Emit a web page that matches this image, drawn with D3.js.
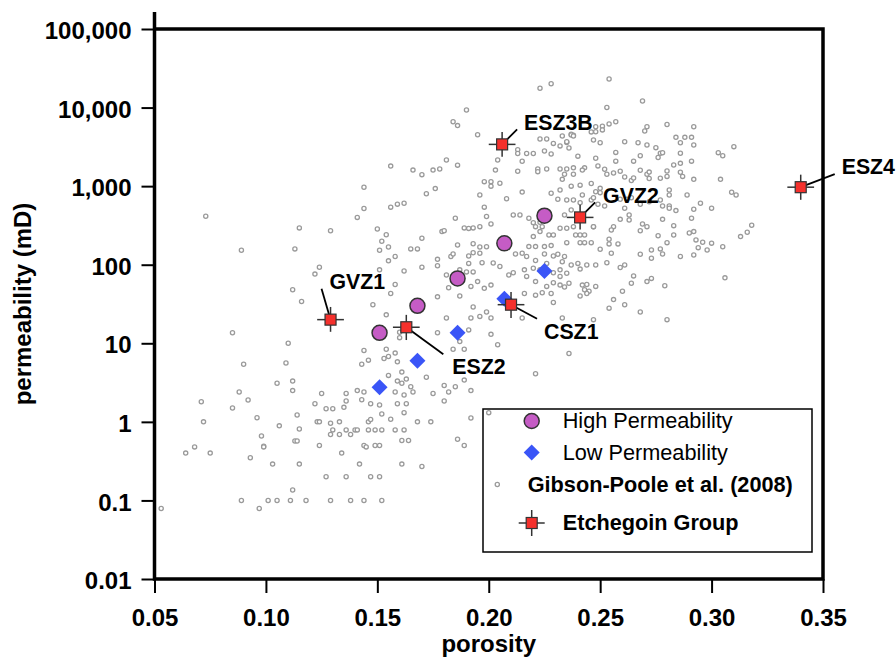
<!DOCTYPE html>
<html>
<head>
<meta charset="utf-8">
<script src="https://cdn.jsdelivr.net/npm/d3@7"></script>
<style>
  html, body { margin: 0; padding: 0; background: #fff; }
  svg { display: block; }
</style>
</head>
<body>
<div id="chart"></div>
<script>
// Tick values
const porosityTicks = [0.05, 0.10, 0.15, 0.20, 0.25, 0.30, 0.35];
const permTicks = [0.01, 0.1, 1, 10, 100, 1000, 10000, 100000];

// High / low permeability samples
const highPorosity = [0.151, 0.168, 0.186, 0.207, 0.225];
const highPerm = [13.6, 30, 67, 187, 421];
const lowPorosity = [0.151, 0.168, 0.186, 0.207, 0.225];
const lowPerm = [2.75, 6.0, 13.6, 37, 83];

// Etchegoin Group samples with error bars
const etchNames = ["GVZ1", "ESZ2", "ESZ3B", "CSZ1", "GVZ2", "ESZ4"];
const etchPorosity = [0.129, 0.163, 0.206, 0.210, 0.241, 0.340];
const etchPerm = [20, 16, 3400, 31, 400, 970];
const etchPorosityErr = [0.006, 0.006, 0.006, 0.006, 0.006, 0.006];
const etchPermLow = [14, 11, 2360, 21, 280, 670];
const etchPermHigh = [29, 23, 4900, 45, 580, 1400];

// Gibson-Poole et al. (2008): [porosity, permeability mD]
const gibsonPoole = [
  [0.190, 9300], [0.184, 6600], [0.186, 5900], [0.195, 4500], [0.156, 1800], [0.166, 1600],
  [0.170, 1400], [0.175, 1600], [0.178, 1650], [0.181, 2150], [0.186, 1850], [0.144, 970],
  [0.172, 800], [0.176, 930], [0.198, 1140], [0.201, 1140], [0.201, 1000], [0.205, 1090],
  [0.196, 770], [0.203, 1600], [0.204, 2150], [0.213, 2900], [0.213, 2600], [0.217, 2600],
  [0.220, 2600], [0.215, 2070], [0.213, 1550], [0.222, 1650], [0.226, 1650], [0.222, 1530],
  [0.215, 840], [0.208, 690], [0.198, 540], [0.199, 410], [0.201, 330], [0.144, 520],
  [0.141, 400], [0.156, 540], [0.159, 590], [0.162, 605], [0.185, 390], [0.189, 294],
  [0.191, 290], [0.193, 294], [0.196, 305], [0.179, 264], [0.180, 270], [0.170, 217],
  [0.150, 285], [0.154, 241], [0.152, 199], [0.155, 168], [0.151, 153], [0.158, 127],
  [0.155, 112], [0.165, 159], [0.168, 159], [0.170, 93], [0.162, 83], [0.115, 294],
  [0.129, 271], [0.113, 159], [0.124, 93], [0.122, 76], [0.112, 48], [0.116, 34],
  [0.151, 86], [0.158, 56], [0.156, 43], [0.148, 31], [0.154, 23], [0.151, 12.3],
  [0.160, 13.8], [0.160, 11.8], [0.144, 8.1], [0.146, 6.1], [0.143, 5.4], [0.154, 8.4],
  [0.153, 6.4], [0.155, 6.8], [0.158, 7.5], [0.159, 5.8], [0.155, 3.9], [0.161, 4.3],
  [0.159, 3.3], [0.161, 3.1], [0.165, 2.8], [0.163, 3.5], [0.166, 2.4], [0.110, 10],
  [0.109, 5.6], [0.112, 3.3], [0.112, 2.5], [0.125, 2.3], [0.136, 2.3], [0.141, 2.5],
  [0.144, 2.4], [0.158, 2.4], [0.172, 3.7], [0.175, 2.3], [0.180, 2.9], [0.185, 2.8],
  [0.189, 3.4], [0.177, 117], [0.177, 97], [0.183, 127], [0.184, 137], [0.186, 178],
  [0.191, 129], [0.193, 142], [0.191, 104], [0.196, 140], [0.197, 106], [0.193, 185],
  [0.196, 168], [0.199, 169], [0.187, 86], [0.190, 81], [0.193, 81], [0.181, 74],
  [0.182, 51], [0.186, 59], [0.192, 53], [0.195, 61], [0.198, 50], [0.201, 55],
  [0.202, 105], [0.205, 95], [0.209, 74], [0.211, 79], [0.187, 40], [0.177, 39],
  [0.193, 29], [0.199, 25], [0.201, 21], [0.196, 22], [0.181, 21], [0.184, 8.4],
  [0.177, 13.6], [0.191, 14.8], [0.187, 10.5], [0.189, 8.4], [0.192, 21], [0.201, 13],
  [0.204, 9.6], [0.223, 3980], [0.226, 3980], [0.229, 3500], [0.233, 4350], [0.235, 3600],
  [0.237, 4570], [0.238, 4440], [0.247, 3860], [0.248, 4930], [0.232, 3250], [0.236, 3060],
  [0.240, 2410], [0.243, 1710], [0.248, 2260], [0.225, 2800], [0.228, 2560], [0.232, 1650],
  [0.235, 1650], [0.238, 1710], [0.242, 1600], [0.234, 1420], [0.238, 1420], [0.233, 1220],
  [0.237, 1000], [0.241, 1030], [0.246, 1080], [0.248, 850], [0.232, 895], [0.228, 811],
  [0.231, 681], [0.235, 667], [0.238, 667], [0.242, 773], [0.246, 667], [0.211, 430],
  [0.214, 430], [0.218, 390], [0.220, 343], [0.223, 347], [0.221, 305], [0.224, 305],
  [0.227, 239], [0.229, 239], [0.232, 291], [0.235, 291], [0.238, 305], [0.239, 239],
  [0.241, 239], [0.243, 239], [0.247, 305], [0.246, 191], [0.241, 191], [0.235, 191],
  [0.228, 175], [0.225, 170], [0.221, 170], [0.218, 170], [0.223, 264], [0.220, 228],
  [0.212, 137], [0.215, 140], [0.217, 127], [0.221, 113], [0.225, 137], [0.229, 129],
  [0.231, 136], [0.234, 127], [0.233, 109], [0.237, 99], [0.240, 104], [0.244, 99],
  [0.248, 99], [0.216, 86], [0.220, 90], [0.223, 86], [0.226, 104], [0.229, 79],
  [0.232, 86], [0.235, 78], [0.236, 58], [0.242, 55], [0.245, 46], [0.248, 53],
  [0.217, 71], [0.221, 61], [0.226, 53], [0.229, 59], [0.234, 52], [0.216, 43],
  [0.221, 41], [0.224, 44], [0.229, 33], [0.233, 21], [0.247, 20], [0.236, 7.4],
  [0.221, 4.1], [0.215, 21], [0.228, 43], [0.232, 55], [0.253, 10000], [0.269, 12100],
  [0.248, 5700], [0.251, 5800], [0.254, 6200], [0.257, 6600], [0.251, 5200], [0.246, 4900],
  [0.237, 4480], [0.238, 4350], [0.235, 3680], [0.250, 3570], [0.261, 3680], [0.267, 3570],
  [0.271, 3340], [0.270, 5040], [0.271, 5700], [0.280, 6100], [0.292, 5700], [0.284, 4180],
  [0.286, 3570], [0.288, 4180], [0.291, 4180], [0.292, 3340], [0.275, 3090], [0.277, 2620],
  [0.278, 2660], [0.276, 2310], [0.286, 2620], [0.303, 2670], [0.305, 2440], [0.310, 3180],
  [0.257, 2690], [0.257, 2080], [0.265, 2080], [0.268, 2440], [0.283, 1860], [0.286, 1950],
  [0.291, 2080], [0.249, 1810], [0.252, 1640], [0.253, 1420], [0.256, 1470], [0.259, 1550],
  [0.261, 1310], [0.264, 1180], [0.265, 1270], [0.268, 1590], [0.271, 1420], [0.272, 1510],
  [0.272, 1250], [0.277, 1260], [0.280, 1330], [0.280, 1560], [0.286, 1500], [0.287, 1330],
  [0.292, 1220], [0.304, 1220], [0.250, 826], [0.247, 713], [0.249, 588], [0.252, 560],
  [0.250, 938], [0.241, 615], [0.237, 497], [0.234, 430], [0.259, 681], [0.262, 681],
  [0.264, 713], [0.261, 523], [0.263, 430], [0.263, 371], [0.259, 378], [0.268, 588],
  [0.272, 635], [0.277, 667], [0.281, 893], [0.281, 773], [0.278, 560], [0.281, 560],
  [0.281, 523], [0.284, 488], [0.278, 378], [0.289, 773], [0.292, 508], [0.291, 391],
  [0.295, 605], [0.300, 523], [0.309, 836], [0.311, 773], [0.247, 305], [0.243, 191],
  [0.256, 305], [0.255, 277], [0.254, 211], [0.254, 184], [0.250, 157], [0.258, 184],
  [0.255, 140], [0.253, 106], [0.259, 92], [0.261, 99], [0.265, 72], [0.264, 58],
  [0.268, 136], [0.269, 330], [0.271, 305], [0.268, 271], [0.273, 154], [0.273, 121],
  [0.276, 234], [0.277, 159], [0.278, 137], [0.280, 191], [0.283, 314], [0.283, 239],
  [0.286, 127], [0.290, 253], [0.292, 264], [0.293, 207], [0.294, 165], [0.292, 133],
  [0.296, 193], [0.298, 154], [0.300, 188], [0.305, 169], [0.313, 228], [0.316, 259],
  [0.318, 318], [0.306, 68], [0.279, 54], [0.273, 67], [0.271, 61], [0.260, 46],
  [0.256, 36], [0.261, 31], [0.254, 28], [0.268, 25], [0.280, 20], [0.244, 56],
  [0.244, 43], [0.241, 40], [0.243, 48], [0.241, 88], [0.232, 71], [0.073, 414],
  [0.089, 153], [0.085, 13.6], [0.090, 5.4], [0.105, 3.1], [0.088, 2.4], [0.092, 1.9],
  [0.071, 1.8], [0.085, 1.5], [0.072, 1.0], [0.096, 1.13], [0.106, 0.89], [0.098, 0.66],
  [0.099, 0.49], [0.099, 0.48], [0.068, 0.48], [0.064, 0.4], [0.075, 0.4], [0.093, 0.35],
  [0.103, 0.29], [0.112, 0.136], [0.089, 0.1], [0.097, 0.079], [0.101, 0.1], [0.105, 0.1],
  [0.111, 0.1], [0.053, 0.079], [0.114, 1.22], [0.113, 0.57], [0.114, 0.57], [0.115, 0.81],
  [0.115, 0.29], [0.162, 2.2], [0.182, 2.4], [0.192, 2.5], [0.180, 1.84], [0.122, 1.7],
  [0.127, 1.47], [0.130, 1.47], [0.135, 1.53], [0.136, 1.84], [0.143, 1.91], [0.147, 1.7],
  [0.151, 1.64], [0.159, 1.7], [0.163, 1.7], [0.162, 1.31], [0.152, 1.26], [0.123, 1.0],
  [0.124, 1.0], [0.129, 0.96], [0.133, 1.0], [0.146, 1.0], [0.147, 1.07], [0.156, 1.08],
  [0.168, 1.0], [0.174, 1.0], [0.192, 1.12], [0.130, 0.79], [0.136, 0.79], [0.140, 0.79],
  [0.141, 0.79], [0.146, 0.79], [0.149, 0.79], [0.152, 0.79], [0.158, 0.79], [0.162, 0.79],
  [0.129, 0.69], [0.133, 0.69], [0.138, 0.69], [0.124, 0.5], [0.144, 0.5], [0.145, 0.48],
  [0.149, 0.5], [0.151, 0.5], [0.161, 0.58], [0.164, 0.58], [0.186, 0.6], [0.189, 0.5],
  [0.134, 0.4], [0.142, 0.29], [0.161, 0.29], [0.170, 0.27], [0.127, 0.2], [0.136, 0.2],
  [0.147, 0.2], [0.151, 0.2], [0.118, 0.1], [0.129, 0.1], [0.138, 0.1], [0.144, 0.1],
  [0.152, 0.1], [0.200, 1.31], [0.223, 17600], [0.228, 20100], [0.254, 23100]
];

// Configuration
const config = {
    width: 896,
    height: 664,
    left: 154.5,
    right: 823,
    top: 29,
    bottom: 579,
    font: "'Liberation Sans', Arial, Helvetica, sans-serif",
    highColor: "#c55cc5",
    lowColor: "#3a55f7",
    etchColor: "#f5302c",
    grayColor: "#9a9a9a"
};

// Label layout for the Etchegoin annotations (pixel offsets from the marker)
const etchLabelLayout = [
    { lx: -9, ly: -31, tx: -1, ty: -31 },
    { lx: 37, ly: 27, tx: 46, ty: 47 },
    { lx: 15, ly: -15, tx: 22, ty: -14 },
    { lx: 26, ly: 14, tx: 33, ty: 34 },
    { lx: 15, ly: -15, tx: 23, ty: -14 },
    { lx: 34, ly: -13, tx: 41, ty: -13 }
];

const svg = d3.select("#chart").append("svg")
    .attr("width", config.width)
    .attr("height", config.height)
    .style("font-family", config.font);

// Scales
const x = d3.scaleLinear().domain([0.05, 0.35]).range([config.left, config.right]);
const y = d3.scaleLog().domain([0.01, 100000]).range([config.bottom, config.top]);

// Axes
const xAxis = svg.append("g")
    .attr("transform", `translate(0,${config.bottom})`)
    .call(d3.axisBottom(x).tickValues(porosityTicks).tickFormat(d3.format(".2f"))
        .tickSize(14).tickPadding(16));

const yAxis = svg.append("g")
    .attr("transform", `translate(${config.left},0)`)
    .call(d3.axisLeft(y).tickValues(permTicks).tickFormat(d3.format(","))
        .tickSize(13).tickPadding(10));

[xAxis, yAxis].forEach(g => {
    g.select(".domain").remove();
    g.attr("font-family", config.font).attr("font-size", 24).attr("font-weight", "bold");
    g.selectAll(".tick line").attr("stroke", "#000").attr("stroke-width", 2);
    g.selectAll(".tick text").attr("fill", "#000");
});
yAxis.selectAll(".tick text").attr("dy", "0.4em");

// Axis titles
svg.append("text")
    .attr("x", (config.left + config.right) / 2)
    .attr("y", 652)
    .attr("text-anchor", "middle")
    .attr("font-size", 24)
    .attr("font-weight", "bold")
    .text("porosity");

svg.append("text")
    .attr("transform", `translate(31,${(config.top + config.bottom) / 2}) rotate(-90)`)
    .attr("text-anchor", "middle")
    .attr("font-size", 24)
    .attr("font-weight", "bold")
    .text("permeability (mD)");

// Legend box (drawn under the points)
const legendBox = { x: 483, y: 409, w: 329, h: 143 };
svg.append("rect")
    .attr("x", legendBox.x)
    .attr("y", legendBox.y)
    .attr("width", legendBox.w)
    .attr("height", legendBox.h)
    .attr("fill", "#fff")
    .attr("stroke", "#000")
    .attr("stroke-width", 1.5);

// Gibson-Poole points
svg.append("g")
    .selectAll("circle")
    .data(gibsonPoole)
    .join("circle")
    .attr("cx", d => x(d[0]))
    .attr("cy", d => y(d[1]))
    .attr("r", 2.1)
    .attr("fill", "#fff")
    .attr("stroke", config.grayColor)
    .attr("stroke-width", 1.3);

// High permeability circles
svg.append("g")
    .selectAll("circle")
    .data(d3.range(highPorosity.length))
    .join("circle")
    .attr("cx", i => x(highPorosity[i]))
    .attr("cy", i => y(highPerm[i]))
    .attr("r", 7.5)
    .attr("fill", config.highColor)
    .attr("stroke", "#333")
    .attr("stroke-width", 1.5);

// Low permeability diamonds
const diamond = s => `M0,${-s}L${s},0L0,${s}L${-s},0Z`;
svg.append("g")
    .selectAll("path")
    .data(d3.range(lowPorosity.length))
    .join("path")
    .attr("transform", i => `translate(${x(lowPorosity[i])},${y(lowPerm[i])})`)
    .attr("d", diamond(8))
    .attr("fill", config.lowColor);

// Etchegoin Group: leader lines, error bars, squares, labels
const etch = svg.append("g");
etchNames.forEach((name, i) => {
    const cx = x(etchPorosity[i]);
    const cy = y(etchPerm[i]);
    const lay = etchLabelLayout[i];

    etch.append("line")
        .attr("x1", cx).attr("y1", cy)
        .attr("x2", cx + lay.lx).attr("y2", cy + lay.ly)
        .attr("stroke", "#000")
        .attr("stroke-width", 1.8);

    etch.append("line")
        .attr("x1", x(etchPorosity[i] - etchPorosityErr[i])).attr("y1", cy)
        .attr("x2", x(etchPorosity[i] + etchPorosityErr[i])).attr("y2", cy)
        .attr("stroke", "#333").attr("stroke-width", 1.5);
    etch.append("line")
        .attr("x1", cx).attr("y1", y(etchPermLow[i]))
        .attr("x2", cx).attr("y2", y(etchPermHigh[i]))
        .attr("stroke", "#333").attr("stroke-width", 1.5);

    etch.append("rect")
        .attr("x", cx - 5.5).attr("y", cy - 5.5)
        .attr("width", 11).attr("height", 11)
        .attr("fill", config.etchColor)
        .attr("stroke", "#333")
        .attr("stroke-width", 1.2);

    etch.append("text")
        .attr("x", cx + lay.tx)
        .attr("y", cy + lay.ty)
        .attr("font-size", 21.3)
        .attr("font-weight", "bold")
        .text(name);
});

// Legend entries
const legend = svg.append("g");
const legendRows = [
    { label: "High Permeability", bold: false, y: 421, sym: "high" },
    { label: "Low Permeability", bold: false, y: 452.5, sym: "low" },
    { label: "Gibson-Poole et al. (2008)", bold: true, y: 484.5, sym: "gp" },
    { label: "Etchegoin Group", bold: true, y: 523, sym: "etch" }
];
legendRows.forEach(r => {
    const sx = 531.7;
    if (r.sym === "high") {
        legend.append("circle").attr("cx", sx).attr("cy", r.y).attr("r", 7.5)
            .attr("fill", config.highColor).attr("stroke", "#333").attr("stroke-width", 1.5);
    } else if (r.sym === "low") {
        legend.append("path").attr("transform", `translate(${sx},${r.y})`)
            .attr("d", diamond(8)).attr("fill", config.lowColor);
    } else if (r.sym === "gp") {
        legend.append("circle").attr("cx", 497.3).attr("cy", r.y).attr("r", 2.1)
            .attr("fill", "#fff").attr("stroke", config.grayColor).attr("stroke-width", 1.3);
    } else {
        legend.append("line").attr("x1", sx - 13).attr("x2", sx + 13)
            .attr("y1", r.y).attr("y2", r.y).attr("stroke", "#333").attr("stroke-width", 1.5);
        legend.append("line").attr("x1", sx).attr("x2", sx)
            .attr("y1", r.y - 13).attr("y2", r.y + 13).attr("stroke", "#333").attr("stroke-width", 1.5);
        legend.append("rect").attr("x", sx - 5.5).attr("y", r.y - 5.5)
            .attr("width", 11).attr("height", 11)
            .attr("fill", config.etchColor).attr("stroke", "#333").attr("stroke-width", 1.2);
    }
    legend.append("text")
        .attr("x", r.sym === "gp" ? 527.7 : 562.7)
        .attr("y", r.y + 7)
        .attr("font-size", 21.7)
        .attr("font-weight", r.bold ? "bold" : "normal")
        .text(r.label);
});

// Plot frame
const frame = d3.path();
frame.moveTo(config.left, 12);
frame.lineTo(config.left, config.bottom);
frame.lineTo(config.right, config.bottom);
frame.lineTo(config.right, config.top);
frame.lineTo(config.left, config.top);
svg.append("path")
    .attr("d", frame.toString())
    .attr("fill", "none")
    .attr("stroke", "#000")
    .attr("stroke-width", 3.5);
</script>
</body>
</html>
